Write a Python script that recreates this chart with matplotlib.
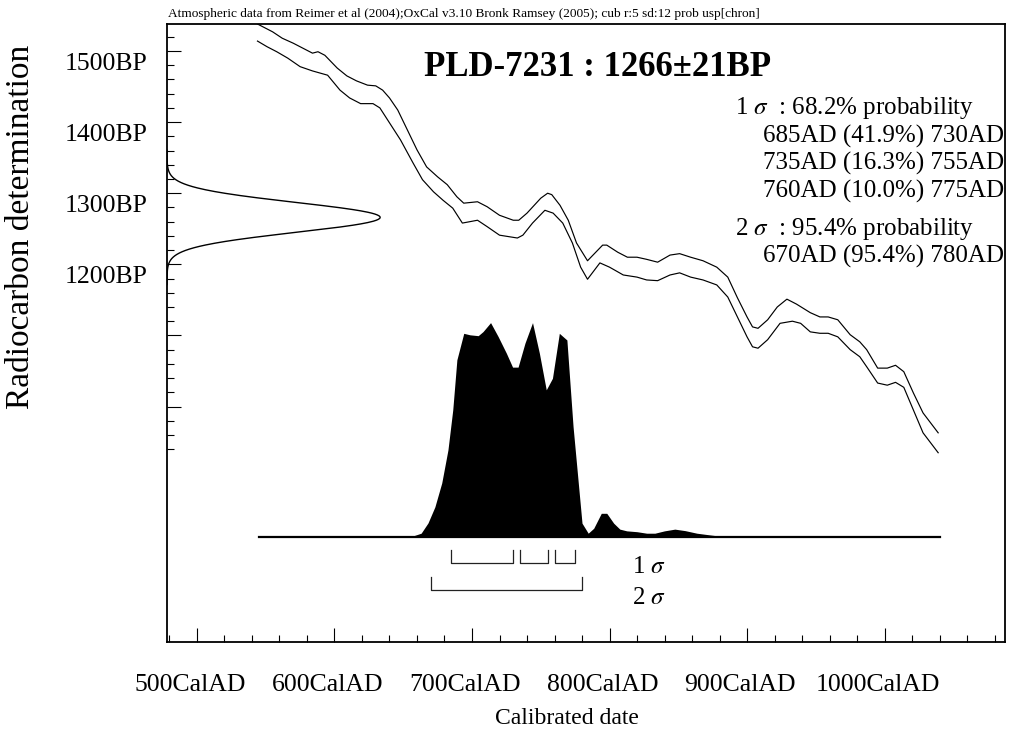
import matplotlib
matplotlib.use("Agg")
import matplotlib.pyplot as plt
import matplotlib.transforms as mtransforms
import numpy as np

plt.rcParams["font.family"] = ["Liberation Serif", "DejaVu Serif"]
plt.rcParams["mathtext.fontset"] = "stix"

# --- data ---
SAMPLE = "PLD-7231"
DATE_BP = 1266
DATE_ERR = 21

HEADER = ("Atmospheric data from Reimer et al (2004);OxCal v3.10 Bronk Ramsey (2005); "
          "cub r:5 sd:12 prob usp[chron]")

# calibration curve, upper and lower edge of the 1 sigma band (cal AD, BP)
CURVE_HI_YEAR = [544, 555, 562, 570, 584, 588, 593, 602, 609, 616, 624, 630, 635, 640,
                 646, 653, 660, 667, 675, 682, 689, 694, 704, 711, 720, 730, 734, 740,
                 750, 755, 758, 764, 770, 776, 784, 795, 798, 806, 813, 820, 827, 835,
                 844, 851, 859, 868, 878, 886, 893, 900, 904, 908, 915, 922, 929, 936,
                 946, 953, 959, 966, 975, 982, 987, 995, 1002, 1008, 1014, 1021, 1028, 1039]
CURVE_HI_BP = [1538, 1527, 1518, 1511, 1497, 1499, 1494, 1476, 1465, 1458, 1452, 1451, 1445, 1434,
               1417, 1389, 1361, 1337, 1323, 1312, 1295, 1286, 1288, 1281, 1269, 1262, 1262, 1272,
               1293, 1300, 1298, 1283, 1262, 1230, 1205, 1227, 1227, 1217, 1210, 1210, 1207, 1203,
               1213, 1215, 1210, 1205, 1196, 1182, 1153, 1126, 1112, 1110, 1122, 1140, 1151, 1144,
               1132, 1126, 1126, 1122, 1101, 1091, 1080, 1054, 1054, 1058, 1049, 1019, 991, 963]

CURVE_LO_YEAR = [544, 551, 558, 566, 575, 584, 595, 604, 611, 619, 628, 633, 640, 648,
                 657, 664, 672, 679, 686, 693, 704, 711, 720, 733, 737, 744, 753, 759,
                 766, 773, 779, 784, 793, 800, 810, 820, 827, 835, 844, 851, 859, 868,
                 878, 886, 893, 900, 904, 908, 915, 924, 933, 939, 946, 953, 959, 966,
                 975, 982, 987, 995, 1002, 1008, 1014, 1021, 1028, 1039]
CURVE_LO_BP = [1514, 1506, 1499, 1490, 1478, 1472, 1466, 1445, 1434, 1426, 1426, 1420, 1399, 1375,
               1343, 1319, 1302, 1290, 1279, 1258, 1262, 1253, 1241, 1237, 1241, 1258, 1276, 1272,
               1258, 1230, 1196, 1179, 1202, 1196, 1185, 1182, 1178, 1177, 1185, 1188, 1182, 1178,
               1171, 1154, 1126, 1098, 1084, 1082, 1094, 1117, 1120, 1117, 1105, 1103, 1103, 1098,
               1080, 1070, 1056, 1033, 1030, 1034, 1027, 995, 963, 935]

# calibrated probability (relative to the highest point)
PROB_YEAR = [545, 648, 657, 663, 668, 673, 678, 682.5, 686, 689, 694, 698.5, 704.5, 708,
             713.5, 719, 725, 729.5, 733.5, 738.5, 744, 749, 754, 758.5, 763.5, 769, 773.5,
             780, 784.5, 788.5, 794, 798, 803, 807.5, 812.5, 820, 827, 833, 840, 847.5,
             855, 863.5, 873, 883, 1040]
PROB_REL = [0, 0, 0.003, 0.016, 0.064, 0.139, 0.251, 0.405, 0.592, 0.826, 0.950, 0.943, 0.939, 0.958,
            1.0, 0.935, 0.857, 0.792, 0.792, 0.904, 1.0, 0.857, 0.686, 0.740, 0.950, 0.919, 0.514,
            0.063, 0.016, 0.039, 0.109, 0.109, 0.063, 0.035, 0.027, 0.023, 0.016, 0.016, 0.027, 0.035,
            0.028, 0.016, 0.008, 0, 0]

RANGE_1S_FROM = [685, 735, 760]
RANGE_1S_TO = [730, 755, 775]
RANGE_1S_PCT = [41.9, 16.3, 10.0]
RANGE_2S_FROM = [670]
RANGE_2S_TO = [780]
RANGE_2S_PCT = [95.4]

X_MAJOR = [500, 600, 700, 800, 900, 1000]
X_LABELS = [f"{y}CalAD" for y in X_MAJOR]
Y_MAJOR = [1000, 1100, 1200, 1300, 1400, 1500]
Y_LABELS = ["", "", "1200BP", "1300BP", "1400BP", "1500BP"]

# --- layout (pixels of a 1022x740 canvas) ---
W, H = 1022, 740
DIST_BASE = 817      # BP level used as the distribution baseline
DIST_SCALE = 301     # BP units for relative probability 1.0
GAUSS_WIDTH = 155    # years of x extent for the measurement curve peak


def fx(px):
    return px / W


def fy(py):
    return 1 - py / H


fig = plt.figure(figsize=(W / 100, H / 100), dpi=100)
ax = fig.add_axes([fx(167), fy(642), (1005 - 167) / W, (642 - 24) / H])
ax.set_xlim(478.2, 1087.6)
ax.set_ylim(668.8, 1538)

# calibration curve
ax.plot(CURVE_HI_YEAR, CURVE_HI_BP, color="black", lw=0.85)
ax.plot(CURVE_LO_YEAR, CURVE_LO_BP, color="black", lw=0.85)

# radiocarbon measurement on the y axis
bp = np.linspace(DATE_BP - 4.5 * DATE_ERR, DATE_BP + 4.5 * DATE_ERR, 300)
g = np.exp(-0.5 * ((bp - DATE_BP) / DATE_ERR) ** 2)
x0 = ax.get_xlim()[0]
ax.plot(x0 + GAUSS_WIDTH * g, bp, color="black", lw=1.0)

# calibrated distribution
prob = np.array(PROB_REL)
ax.fill_between(PROB_YEAR, DIST_BASE, DIST_BASE + prob * DIST_SCALE,
                color="black", lw=0)
ax.plot([PROB_YEAR[0], PROB_YEAR[-1]], [DIST_BASE, DIST_BASE], color="black", lw=1.6)

# range brackets
def bracket(a, b, y, h):
    ax.plot([a, a, b, b], [y + h, y, y, y + h], color="#222222", lw=0.9)

for a, b in zip(RANGE_1S_FROM, RANGE_1S_TO):
    bracket(a, b, DIST_BASE - 37, 18)
for a, b in zip(RANGE_2S_FROM, RANGE_2S_TO):
    bracket(a, b, DIST_BASE - 75, 18)

ax.text(816, DIST_BASE - 43, r"1 $\sigma$", fontsize=18, va="center", ha="left")
ax.text(816, DIST_BASE - 87, r"2 $\sigma$", fontsize=18, va="center", ha="left")

# axes styling
for s in ax.spines.values():
    s.set_linewidth(1.3)
ax.set_xticks(X_MAJOR)
ax.set_xticklabels(X_LABELS)
ax.set_xticks(np.arange(480, 1081, 20), minor=True)
ax.set_yticks(Y_MAJOR)
ax.set_yticklabels(Y_LABELS)
ax.set_yticks(np.arange(940, 1521, 20), minor=True)
ax.tick_params(which="both", direction="in", width=0.8, labelsize=18.5)
ax.tick_params(which="major", length=10)
ax.tick_params(which="minor", length=5)
ax.tick_params(axis="x", pad=23)
ax.tick_params(axis="y", pad=14)

for lab in ax.get_xticklabels():
    lab.set_transform(lab.get_transform() +
                      mtransforms.ScaledTranslation(-0.07, 0, fig.dpi_scale_trans))
for lab in ax.get_yticklabels():
    lab.set_transform(lab.get_transform() +
                      mtransforms.ScaledTranslation(0, -0.105, fig.dpi_scale_trans))

# texts
fig.text(fx(168), fy(14), HEADER, fontsize=9.6, va="center", ha="left")
fig.text(fx(424), fy(67), f"{SAMPLE} : {DATE_BP}\u00b1{DATE_ERR}BP",
         fontsize=25, fontweight="bold", va="center", ha="left")

rows = [(r"1 $\sigma$  : 68.2% probability", 108, "left")]
ypos = [136, 163, 191]
for a, b, p, yy in zip(RANGE_1S_FROM, RANGE_1S_TO, RANGE_1S_PCT, ypos):
    rows.append((f"{a}AD ({p:.1f}%) {b}AD", yy, "right"))
rows.append((r"2 $\sigma$  : 95.4% probability", 229, "left"))
for a, b, p in zip(RANGE_2S_FROM, RANGE_2S_TO, RANGE_2S_PCT):
    rows.append((f"{a}AD ({p:.1f}%) {b}AD", 256, "right"))
for txt, yy, ha in rows:
    xx = fx(735) if ha == "left" else fx(1004)
    fig.text(xx, fy(yy), txt, fontsize=18, va="center", ha=ha)

fig.text(fx(567), fy(719), "Calibrated date", fontsize=17, va="center", ha="center")
fig.text(fx(21), fy(227), "Radiocarbon determination", fontsize=24, va="center",
         ha="center", rotation=90)

fig.savefig("out.png", dpi=100)
